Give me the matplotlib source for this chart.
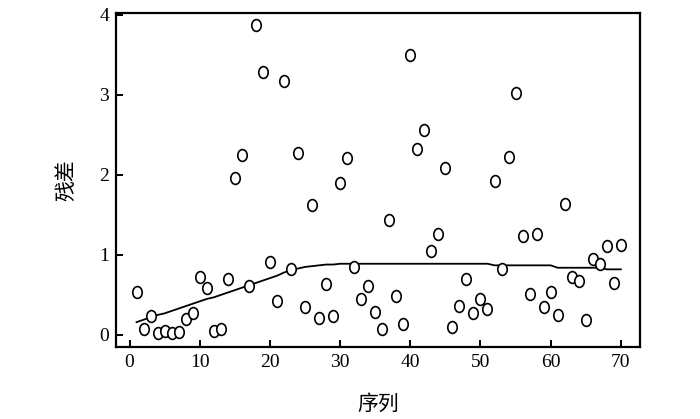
import numpy as np
import matplotlib
matplotlib.use("Agg")
import matplotlib.pyplot as plt
from matplotlib.path import Path
from matplotlib.transforms import Affine2D

plt.rcParams['font.family'] = ['Liberation Serif', 'Noto Sans CJK SC']

# 序列 (sequence index) and 残差 (residuals)
seq = list(range(1, 71))
resid = [0.54, 0.07, 0.24, 0.02, 0.05, 0.02, 0.04, 0.20, 0.27, 0.72,
         0.59, 0.05, 0.07, 0.70, 1.96, 2.25, 0.61, 3.88, 3.29, 0.91,
         0.43, 3.18, 0.82, 2.28, 0.35, 1.62, 0.21, 0.64, 0.24, 1.90,
         2.21, 0.85, 0.45, 0.61, 0.29, 0.07, 1.44, 0.49, 0.14, 3.50,
         2.33, 2.56, 1.05, 1.26, 2.09, 0.10, 0.36, 0.70, 0.27, 0.45,
         0.32, 1.92, 0.82, 2.22, 3.03, 1.24, 0.51, 1.26, 0.35, 0.54,
         0.25, 1.64, 0.72, 0.68, 0.19, 0.95, 0.89, 1.11, 0.65, 1.12]

# smoothed trend line
trend = [0.16, 0.19, 0.22, 0.25, 0.27, 0.30, 0.33, 0.36, 0.39, 0.42,
         0.45, 0.47, 0.50, 0.53, 0.56, 0.59, 0.62, 0.65, 0.68, 0.71,
         0.74, 0.78, 0.81, 0.83, 0.85, 0.86, 0.87, 0.88, 0.88, 0.89,
         0.89, 0.89, 0.89, 0.89, 0.89, 0.89, 0.89, 0.89, 0.89, 0.89,
         0.89, 0.89, 0.89, 0.89, 0.89, 0.89, 0.89, 0.89, 0.89, 0.89,
         0.89, 0.87, 0.87, 0.87, 0.87, 0.87, 0.87, 0.87, 0.87, 0.87,
         0.84, 0.84, 0.84, 0.84, 0.84, 0.84, 0.84, 0.82, 0.82, 0.82]

# slightly tall open circle, like the original
ellipse = Path.unit_circle().transformed(Affine2D().scale(0.8, 1.0))

fig = plt.figure(figsize=(7.0, 4.19), dpi=100)
ax = fig.add_axes([0.166, 0.172, 0.748, 0.797])

ax.plot(seq, trend, color='black', linewidth=1.3, zorder=2)
ax.plot(seq, resid, linestyle='none', marker=ellipse, markersize=8.5,
        markerfacecolor='white', markeredgecolor='black', markeredgewidth=1.2, zorder=3)

ax.set_xlim(-1.9, 72.7)
ax.set_ylim(-0.15, 4.025)
ax.set_xticks(np.arange(0, 71, 10))
ax.set_yticks([0, 1, 2, 3, 4])

for s in ax.spines.values():
    s.set_linewidth(1.6)
ax.tick_params(direction='in', length=5, width=1.4, labelsize=14, pad=5,
               top=False, right=False)

ax.set_xlabel('序列', fontsize=15, family=['Noto Sans CJK SC'], labelpad=16)
ax.set_ylabel('残差', fontsize=15, family=['Noto Sans CJK SC'], labelpad=16)

fig.savefig('out.png', dpi=100)
